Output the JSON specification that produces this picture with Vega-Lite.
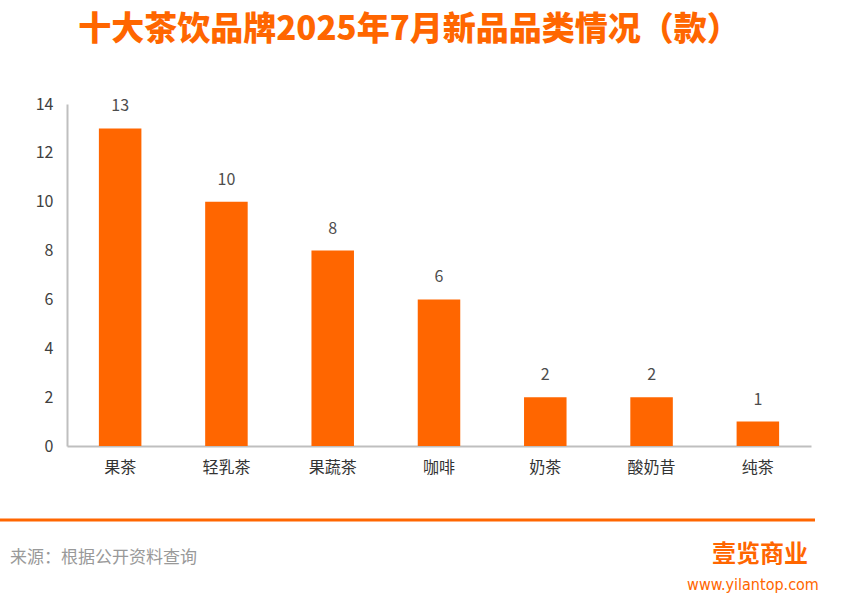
{
  "$schema": "https://vega.github.io/schema/vega-lite/v6.json",
  "width": 744,
  "height": 342,
  "autosize": {"type": "none"},
  "padding": {"left": 67, "top": 104, "right": 32, "bottom": 156},
  "background": "white",
  "config": {"view": {"stroke": null}, "font": "Noto Sans CJK SC"},
  "title": {
    "text": "十大茶饮品牌2025年7月新品品类情况（款）",
    "font": "Noto Sans CJK SC",
    "fontSize": 33,
    "fontWeight": 900,
    "color": "#FF6600",
    "anchor": "middle",
    "dx": -30,
    "offset": 49
  },
  "layer": [
    {
      "data": {"name": "main", "values": [
        {"category": "果茶", "count": 13},
        {"category": "轻乳茶", "count": 10},
        {"category": "果蔬茶", "count": 8},
        {"category": "咖啡", "count": 6},
        {"category": "奶茶", "count": 2},
        {"category": "酸奶昔", "count": 2},
        {"category": "纯茶", "count": 1}
      ]},
      "encoding": {
        "x": {
          "field": "category",
          "type": "nominal",
          "sort": null,
          "scale": {"paddingInner": 0.6, "paddingOuter": 0.3},
          "axis": {
            "title": null,
            "labelAngle": 0,
            "labelFontSize": 16,
            "labelColor": "#333333",
            "labelPadding": 13,
            "ticks": false,
            "domainColor": "#BFBFBF",
            "domainWidth": 2
          }
        },
        "y": {
          "field": "count",
          "type": "quantitative",
          "scale": {"domain": [0, 14]},
          "axis": {
            "title": null,
            "values": [0, 2, 4, 6, 8, 10, 12, 14],
            "grid": false,
            "ticks": false,
            "labelFontSize": 16,
            "labelColor": "#404040",
            "labelPadding": 14,
            "domainColor": "#BFBFBF",
            "domainWidth": 2
          }
        }
      },
      "layer": [
        {"mark": {"type": "bar", "color": "#FF6600"}},
        {
          "mark": {"type": "text", "dy": -22, "fontSize": 16, "color": "#4D4D4D"},
          "encoding": {"text": {"field": "count", "type": "quantitative"}}
        }
      ]
    },
    {
      "data": {"values": [{"a": 1}]},
      "mark": {"type": "rule", "color": "#FF6600", "strokeWidth": 3, "clip": false},
      "encoding": {
        "x": {"value": -67},
        "x2": {"value": 748},
        "y": {"value": 416}
      }
    },
    {
      "data": {"values": [{"t": "来源：根据公开资料查询"}]},
      "mark": {"type": "text", "align": "left", "fontSize": 17, "color": "#999999"},
      "encoding": {
        "text": {"field": "t"},
        "x": {"value": -57},
        "y": {"value": 454}
      }
    },
    {
      "data": {"values": [{"t": "壹览商业"}]},
      "mark": {"type": "text", "align": "center", "fontSize": 24, "fontWeight": "bold", "color": "#FF6600"},
      "encoding": {
        "text": {"field": "t"},
        "x": {"value": 693},
        "y": {"value": 451}
      }
    },
    {
      "data": {"values": [{"t": "www.yilantop.com"}]},
      "mark": {"type": "text", "align": "center", "fontSize": 16, "font": "DejaVu Sans Condensed, Liberation Sans", "color": "#FF6600"},
      "encoding": {
        "text": {"field": "t"},
        "x": {"value": 686},
        "y": {"value": 481}
      }
    }
  ]
}
